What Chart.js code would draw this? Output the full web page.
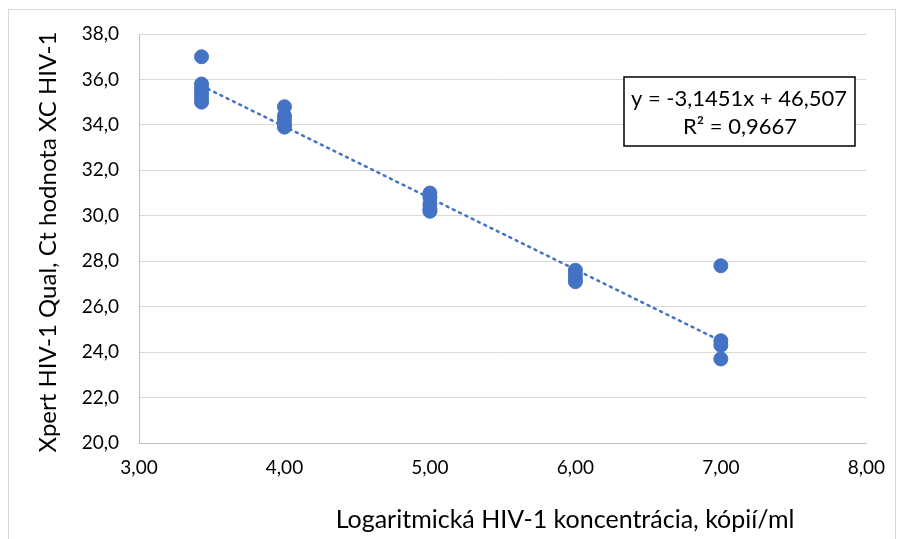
<!DOCTYPE html>
<html>
<head>
<meta charset="utf-8">
<script src="https://cdn.jsdelivr.net/npm/chart.js@4.4.1/dist/chart.umd.min.js"></script>
<style>
  html, body { margin: 0; padding: 0; background: #fff; }
  #wrap { position: relative; width: 898px; height: 539px; }
  #frame { position: absolute; left: 8px; top: 9px; width: 888px; height: 540px; border: 1px solid #d9d9d9; box-sizing: border-box; }
  canvas { position: absolute; left: 0; top: 0; }
</style>
</head>
<body>
<div id="wrap">
  <div id="frame"></div>
  <canvas id="chart" width="898" height="539"></canvas>
</div>
<script>
// log concentration and Ct values, one entry per measured sample
const xValues = [3.43, 3.43, 3.43, 3.43, 3.43, 3.43,
                 4.00, 4.00, 4.00, 4.00, 4.00,
                 5.00, 5.00, 5.00, 5.00, 5.00,
                 6.00, 6.00, 6.00, 6.00,
                 7.00, 7.00, 7.00, 7.00];
const ctValues = [37.0, 35.8, 35.6, 35.4, 35.2, 35.0,
                  34.8, 34.4, 34.2, 34.0, 33.9,
                  31.0, 30.8, 30.5, 30.3, 30.2,
                  27.6, 27.4, 27.2, 27.1,
                  27.8, 24.5, 24.3, 23.7];

// linear trendline end points
const trendX = [3.43, 7.00];
const trendY = [35.72, 24.49];

const equationLines = ['y = -3,1451x + 46,507', 'R² = 0,9667'];

const xTitle = 'Logaritmická HIV-1 koncentrácia, kópií/ml';
const yTitle = 'Xpert HIV-1 Qual, Ct hodnota XC HIV-1';

const fontFamily = 'Lato, "Open Sans", sans-serif';
const blue = '#4472C4';

const points = xValues.map((x, i) => ({ x: x, y: ctValues[i] }));
const trend = trendX.map((x, i) => ({ x: x, y: trendY[i] }));

// axis titles and the equation box, placed like in the excel export
const extras = {
    id: 'extras',
    afterDraw(chart) {
        const ctx = chart.ctx;
        ctx.save();
        ctx.fillStyle = '#000';
        ctx.textAlign = 'center';
        ctx.textBaseline = 'middle';

        ctx.font = '25px ' + fontFamily;
        ctx.fillText(xTitle, 565, 520);

        ctx.save();
        ctx.translate(48, 242);
        ctx.rotate(-Math.PI / 2);
        ctx.font = '24px ' + fontFamily;
        ctx.fillText(yTitle, 0, 0);
        ctx.restore();

        ctx.fillStyle = '#fff';
        ctx.fillRect(624, 77, 231, 69);
        ctx.strokeStyle = '#000';
        ctx.lineWidth = 1.5;
        ctx.strokeRect(624, 77, 231, 69);
        ctx.fillStyle = '#000';
        ctx.font = '22px ' + fontFamily;
        ctx.fillText(equationLines[0], 739, 99);
        ctx.fillText(equationLines[1], 740, 127);
        ctx.restore();
    }
};

new Chart(document.getElementById('chart').getContext('2d'), {
    type: 'scatter',
    data: {
        datasets: [
            {
                label: 'trend',
                type: 'line',
                data: trend,
                borderColor: blue,
                borderWidth: 2.5,
                borderDash: [2, 5],
                borderCapStyle: 'round',
                pointRadius: 0,
                fill: false,
                order: 2
            },
            {
                label: 'Ct',
                data: points,
                backgroundColor: blue,
                borderColor: blue,
                pointRadius: 7,
                pointHoverRadius: 7,
                order: 1
            }
        ]
    },
    options: {
        responsive: false,
        animation: false,
        layout: { padding: { top: 34, right: 30, left: 0, bottom: 0 } },
        plugins: {
            legend: { display: false },
            tooltip: { enabled: false }
        },
        scales: {
            x: {
                type: 'linear',
                min: 3,
                max: 8,
                afterFit: s => { s.height = 96; },
                grid: { display: false, drawTicks: false },
                border: { display: true, color: '#bfbfbf', width: 1 },
                ticks: {
                    stepSize: 1,
                    padding: 13,
                    color: '#000',
                    font: { family: fontFamily, size: 19 },
                    callback: v => v.toFixed(2).replace('.', ',')
                }
            },
            y: {
                type: 'linear',
                min: 20,
                max: 38,
                afterFit: s => { s.width = 139; },
                grid: { color: '#d9d9d9', lineWidth: 1, drawTicks: false },
                border: { display: true, color: '#bfbfbf', width: 1 },
                ticks: {
                    stepSize: 2,
                    padding: 20,
                    color: '#000',
                    font: { family: fontFamily, size: 19 },
                    callback: v => v.toFixed(1).replace('.', ',')
                }
            }
        }
    },
    plugins: [extras]
});
</script>
</body>
</html>
